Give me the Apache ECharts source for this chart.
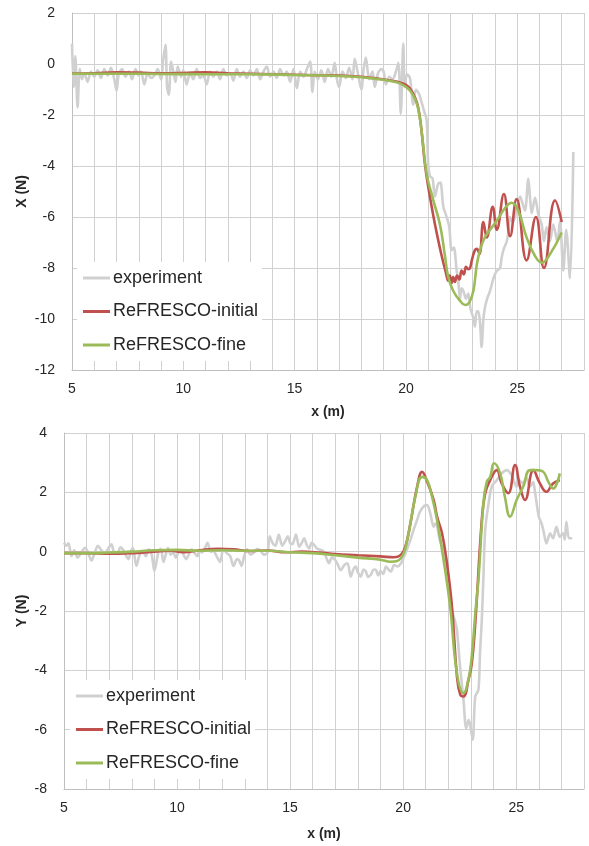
<!DOCTYPE html>
<html>
<head>
<meta charset="utf-8">
<script src="https://cdn.jsdelivr.net/npm/echarts@6/dist/echarts.min.js"></script>
<style>
html,body{margin:0;padding:0;background:#fff;}
#chart{width:589px;height:846px;}
</style>
</head>
<body>
<div id="chart"></div>
<script>
// ---- Data (x in m, force in N) ----
const seriesNames = ['experiment', 'ReFRESCO-initial', 'ReFRESCO-fine'];
const xTickLabels = [5, 10, 15, 20, 25];

// Top panel: X (N)
const expX = [
[5.0,0.8],[5.08,-0.9],[5.15,0.3],[5.25,-1.7],[5.35,-0.2],[5.45,-0.6],[5.55,-0.35],[5.7,-0.7],[5.85,-0.3],[6.0,-0.5],
[6.15,-0.25],[6.3,-0.55],[6.45,-0.2],[6.6,-0.45],[6.75,-0.15],[6.9,-0.6],[7.0,-1.05],[7.1,-0.4],[7.25,-0.2],[7.4,-0.5],
[7.55,-0.3],[7.7,-0.6],[7.85,-0.2],[8.0,-0.45],[8.1,-0.3],[8.25,-0.8],[8.4,-0.35],[8.55,-0.55],[8.7,-0.45],[8.85,-0.2],
[9.0,-0.6],[9.1,0.2],[9.2,0.75],[9.27,-0.9],[9.35,-1.2],[9.45,0.1],[9.55,-0.3],[9.65,-0.7],[9.75,-0.1],[9.9,-0.5],
[10.0,-0.25],[10.15,-0.8],[10.3,-0.35],[10.45,-0.6],[10.6,-0.2],[10.75,-0.55],[10.9,-0.45],[11.05,-0.8],[11.2,-0.3],[11.35,-0.5],
[11.5,-0.3],[11.65,-0.6],[11.8,-0.2],[11.95,-0.45],[12.1,-0.35],[12.25,-0.65],[12.4,-0.2],[12.55,-0.5],[12.7,-0.3],[12.85,-0.55],
[13.0,-0.25],[13.15,-0.45],[13.3,-0.2],[13.45,-0.6],[13.6,-0.3],[13.75,-0.1],[13.9,-0.5],[14.05,-0.3],[14.2,-0.55],[14.35,-0.2],
[14.5,-0.45],[14.65,-0.3],[14.8,-0.7],[14.95,-0.2],[15.1,-0.95],[15.25,-0.3],[15.4,-0.5],[15.55,-0.2],[15.7,0.1],[15.8,-1.1],
[15.9,-0.3],[16.05,-0.6],[16.2,-0.25],[16.35,-0.7],[16.5,-0.2],[16.65,-0.5],[16.8,0.05],[16.9,-0.6],[17.0,-0.9],[17.15,-0.3],
[17.3,-0.55],[17.45,-0.15],[17.6,-0.6],[17.7,0.2],[17.85,-0.4],[18.0,-1.0],[18.1,-0.2],[18.2,0.25],[18.35,-0.6],[18.5,-0.3],
[18.6,-0.9],[18.75,-0.35],[18.9,-0.2],[19.0,-0.3],[19.1,-0.8],[19.25,-0.5],[19.4,-0.6],[19.55,-0.3],[19.66,0.05],[19.77,-1.95],
[19.88,0.8],[19.95,-0.9],[20.05,-0.4],[20.18,-0.55],[20.33,-1.6],[20.45,-1.0],[20.6,-1.2],[20.8,-1.8],[20.93,-2.2],[21.0,-3.9],
[21.08,-4.4],[21.2,-4.5],[21.3,-5.2],[21.45,-4.7],[21.55,-4.65],[21.68,-5.6],[21.83,-6.0],[21.95,-6.4],[22.05,-7.3],[22.15,-7.2],
[22.28,-8.1],[22.35,-8.5],[22.43,-9.2],[22.5,-8.8],[22.58,-8.9],[22.7,-9.2],[22.8,-9.0],[22.9,-9.6],[23.03,-9.95],[23.1,-10.3],
[23.18,-9.7],[23.25,-9.7],[23.33,-10.15],[23.4,-11.1],[23.48,-10.0],[23.55,-9.55],[23.65,-9.2],[23.78,-8.9],[23.9,-8.5],[24.0,-8.25],
[24.1,-8.1],[24.23,-8.0],[24.3,-7.6],[24.38,-7.3],[24.53,-6.95],[24.6,-6.6],[24.68,-6.0],[24.8,-6.2],[24.9,-6.0],[25.0,-5.6],
[25.13,-5.2],[25.25,-5.5],[25.35,-5.75],[25.5,-4.5],[25.58,-5.3],[25.65,-5.85],[25.8,-5.25],[25.95,-5.9],[26.1,-6.3],[26.2,-6.95],
[26.32,-6.4],[26.47,-6.95],[26.62,-6.3],[26.8,-6.95],[26.92,-6.15],[27.07,-8.1],[27.2,-6.5],[27.37,-8.4],[27.52,-3.45]
];
const initX = [
[5,-0.37],[6,-0.36],[7,-0.33],[8,-0.34],[9,-0.36],[10,-0.35],[11,-0.33],[12,-0.36],[13,-0.38],[14,-0.4],
[15,-0.42],[16,-0.44],[17,-0.45],[18,-0.5],[18.8,-0.58],[19.3,-0.65],[19.7,-0.72],[20.0,-0.82],[20.2,-0.98],[20.4,-1.3],
[20.55,-1.7],[20.7,-2.6],[20.85,-3.9],[21.0,-4.8],[21.2,-5.8],[21.4,-6.7],[21.6,-7.5],[21.8,-8.2],[21.9,-8.5],[21.97,-8.3],
[22.05,-8.6],[22.12,-8.35],[22.2,-8.55],[22.3,-8.3],[22.4,-8.45],[22.5,-8.1],[22.6,-8.25],[22.7,-7.95],[22.8,-8.05],[22.88,-8.0],
[22.96,-7.7],[23.1,-7.3],[23.19,-7.25],[23.3,-7.45],[23.48,-6.2],[23.63,-6.8],[23.9,-5.6],[24.08,-6.5],[24.4,-5.1],[24.68,-6.75],
[24.97,-5.3],[25.42,-7.7],[25.84,-6.0],[26.2,-8.0],[26.7,-5.35],[27.0,-6.2]
];
const fineX = [
[5,-0.38],[7,-0.38],[9,-0.39],[11,-0.4],[13,-0.4],[15,-0.43],[17,-0.47],[18,-0.52],[18.8,-0.6],[19.3,-0.67],
[19.7,-0.75],[20.0,-0.9],[20.2,-1.06],[20.4,-1.35],[20.55,-1.75],[20.7,-2.6],[20.93,-4.3],[21.2,-5.25],[21.53,-6.3],[21.75,-7.5],
[21.9,-8.35],[22.13,-8.9],[22.4,-9.25],[22.66,-9.45],[22.85,-9.35],[23.03,-8.9],[23.18,-7.9],[23.33,-7.3],[23.55,-6.8],[24.08,-6.15],
[24.52,-5.57],[24.75,-5.44],[25.05,-5.76],[25.42,-6.8],[25.8,-7.53],[26.1,-7.79],[26.47,-7.46],[27.0,-6.61]
];

// Bottom panel: Y (N)
const expY = [
[5.0,0.3],[5.1,0.2],[5.2,0.28],[5.33,-0.15],[5.45,0.05],[5.6,-0.2],[5.75,-0.05],[5.93,0.13],[6.05,0.0],[6.22,-0.3],
[6.35,-0.05],[6.5,0.2],[6.65,0.05],[6.8,-0.05],[6.95,0.1],[7.1,0.25],[7.2,0.0],[7.35,-0.08],[7.5,0.15],[7.6,0.08],
[7.72,-0.1],[7.85,-0.25],[7.95,0.0],[8.05,0.13],[8.2,-0.48],[8.35,-0.1],[8.5,-0.03],[8.62,-0.15],[8.75,0.08],[8.88,-0.1],
[9.0,-0.65],[9.17,-0.03],[9.28,0.1],[9.4,-0.35],[9.5,-0.1],[9.6,0.12],[9.72,-0.1],[9.83,-0.03],[9.95,-0.2],[10.1,0.02],
[10.25,-0.05],[10.4,-0.25],[10.52,-0.1],[10.65,0.08],[10.78,-0.05],[10.9,-0.15],[11.0,0.05],[11.1,-0.03],[11.22,0.1],[11.35,0.3],
[11.48,0.0],[11.6,0.02],[11.75,-0.15],[11.9,-0.35],[12.05,0.08],[12.2,-0.05],[12.35,-0.15],[12.5,-0.48],[12.65,-0.25],[12.75,-0.3],
[12.85,-0.48],[12.97,-0.15],[13.1,0.08],[13.25,-0.1],[13.4,-0.03],[13.55,0.1],[13.7,0.02],[13.85,-0.1],[14.0,-0.03],[14.1,0.52],
[14.22,0.3],[14.35,0.2],[14.5,0.58],[14.65,0.2],[14.78,0.35],[14.9,0.52],[15.0,0.3],[15.1,0.25],[15.26,0.58],[15.4,0.17],
[15.52,0.3],[15.62,0.45],[15.75,0.2],[15.85,0.11],[15.95,0.3],[16.07,0.22],[16.2,0.1],[16.36,0.06],[16.5,0.0],[16.6,-0.2],
[16.72,-0.39],[16.85,-0.2],[17.0,-0.28],[17.12,-0.45],[17.24,-0.62],[17.4,-0.45],[17.54,-0.39],[17.68,-0.84],[17.8,-0.6],[17.9,-0.5],
[18.0,-0.7],[18.12,-0.84],[18.25,-0.6],[18.35,-0.67],[18.45,-0.85],[18.57,-0.78],[18.7,-0.6],[18.8,-0.62],[18.9,-0.8],[19.0,-0.65],
[19.12,-0.75],[19.24,-0.5],[19.35,-0.6],[19.46,-0.67],[19.6,-0.45],[19.75,-0.5],[19.9,-0.4],[20.04,-0.17],[20.18,0.1],[20.32,0.39],
[20.47,0.75],[20.62,1.07],[20.72,1.3],[20.84,1.46],[20.95,1.55],[21.06,1.57],[21.2,1.29],[21.35,0.84],[21.42,0.95],[21.5,0.88],
[21.6,0.45],[21.72,0.17],[21.82,-0.1],[21.94,-0.5],[22.05,-1.2],[22.16,-1.96],[22.28,-2.3],[22.38,-2.64],[22.52,-3.9],[22.67,-5.0],
[22.79,-5.95],[22.9,-5.67],[23.0,-6.0],[23.08,-6.34],[23.19,-4.88],[23.33,-4.66],[23.4,-3.42],[23.48,-2.3],[23.55,-0.9],[23.63,0.73],
[23.78,1.63],[23.92,2.19],[24.14,2.41],[24.36,2.64],[24.58,2.75],[24.8,2.58],[25.02,2.19],[25.15,2.4],[25.31,2.3],[25.45,2.5],
[25.61,2.19],[25.75,2.35],[25.83,2.02],[26.0,1.18],[26.1,1.0],[26.2,0.73],[26.34,0.28],[26.5,0.62],[26.63,0.45],[26.78,0.84],
[26.93,0.5],[27.07,0.62],[27.15,0.4],[27.22,1.01],[27.34,0.45],[27.48,0.45]
];
const initY = [
[5,-0.05],[6,-0.05],[7,-0.07],[8,-0.05],[9,0.0],[9.7,0.03],[10.3,-0.02],[11,0.05],[11.8,0.1],[12.5,0.08],
[13.2,0.02],[14,0.04],[14.8,-0.02],[15.5,0.0],[16.3,-0.03],[17,-0.08],[18,-0.12],[19,-0.16],[19.6,-0.19],[19.9,-0.11],
[20.1,0.17],[20.32,0.95],[20.62,2.19],[20.84,2.69],[21.06,2.36],[21.35,1.74],[21.5,1.18],[21.72,0.62],[21.94,-0.39],[22.16,-1.85],
[22.38,-4.2],[22.53,-4.83],[22.67,-4.88],[22.89,-4.32],[23.04,-3.76],[23.2,-2.3],[23.48,1.07],[23.63,1.97],[23.85,2.41],[24.14,2.75],
[24.36,2.3],[24.65,1.97],[24.95,2.92],[25.17,2.19],[25.39,1.74],[25.76,2.75],[26.05,2.3],[26.34,2.02],[26.63,2.3],[26.93,2.41]
];
const fineY = [
[5,-0.05],[6,-0.05],[7,-0.03],[8,0.0],[9,0.05],[10,0.06],[11,0.03],[12,0.05],[13,0.03],[14,0.03],
[15,-0.02],[16,-0.05],[17,-0.12],[18,-0.2],[19,-0.27],[19.44,-0.34],[19.9,-0.22],[20.18,0.39],[20.54,1.85],[20.84,2.52],
[21.06,2.41],[21.28,1.85],[21.5,1.07],[21.79,-0.28],[22.08,-1.85],[22.38,-4.1],[22.67,-4.77],[22.89,-4.3],[23.04,-3.5],[23.2,-2.0],
[23.33,-0.95],[23.55,1.63],[23.7,2.36],[23.85,2.52],[24.02,2.98],[24.29,2.64],[24.5,1.85],[24.73,1.18],[25.02,1.74],[25.31,2.19],
[25.61,2.75],[25.9,2.75],[26.2,2.69],[26.42,2.36],[26.63,2.13],[26.93,2.64]
];

// ---- Chart ----
const FONT = 'Liberation Sans';
const colors = ['#d0d0d0', '#c0504d', '#9bbb59'];
const gridColor = '#d0d0d0';

function xAxisCfg(gridIndex, nameGap) {
  return {
    type: 'value', gridIndex: gridIndex, min: 5, max: 28, interval: 1,
    name: 'x (m)', nameLocation: 'middle', nameGap: nameGap, nameMoveOverlap: false,
    nameTextStyle: { fontFamily: FONT, fontSize: 14, fontWeight: 'bold', color: '#262626' },
    axisLine: { show: true, onZero: false, lineStyle: { color: '#bfbfbf', width: 1 } },
    axisTick: { show: false },
    axisLabel: {
      fontFamily: FONT, fontSize: 14, color: '#262626', margin: 12,
      formatter: function (v) { return xTickLabels.indexOf(v) >= 0 ? String(v) : ''; }
    },
    splitLine: { show: true, lineStyle: { color: gridColor, width: 1 } }
  };
}
function yAxisCfg(gridIndex, name, min, max, nameGap) {
  return {
    type: 'value', gridIndex: gridIndex, min: min, max: max, interval: 2,
    name: name, nameLocation: 'middle', nameGap: nameGap, nameRotate: 90, nameMoveOverlap: false,
    nameTextStyle: { fontFamily: FONT, fontSize: 14, fontWeight: 'bold', color: '#262626' },
    axisLine: { show: true, onZero: false, lineStyle: { color: '#bfbfbf', width: 1 } },
    axisTick: { show: false },
    axisLabel: { fontFamily: FONT, fontSize: 14, color: '#262626', margin: 17 },
    splitLine: { show: true, lineStyle: { color: gridColor, width: 1 } }
  };
}
function lineSeries(name, data, idx, color, smooth) {
  return {
    name: name, type: 'line', xAxisIndex: idx, yAxisIndex: idx, data: data,
    showSymbol: false, symbol: 'none', smooth: smooth,
    lineStyle: { color: color, width: 2.6 }, itemStyle: { color: color },
    emphasis: { disabled: true }, animation: false
  };
}
function legendCfg(left, top) {
  return {
    data: seriesNames, orient: 'vertical', left: left, top: top,
    backgroundColor: '#ffffff', padding: [7, 4, 7, 6],
    icon: 'rect', itemWidth: 27, itemHeight: 3, itemGap: 15.5,
    textStyle: { fontFamily: FONT, fontSize: 18, color: '#262626', padding: [0, 0, 0, -2] },
    selectedMode: false
  };
}

const chart = echarts.init(document.getElementById('chart'), null, { renderer: 'canvas' });
chart.setOption({
  animation: false,
  backgroundColor: '#ffffff',
  color: colors,
  grid: [
    { left: 72, top: 13, right: 5, height: 357, containLabel: false },
    { left: 64, top: 433, right: 5, height: 356, containLabel: false }
  ],
  xAxis: [xAxisCfg(0, 35), xAxisCfg(1, 38)],
  yAxis: [yAxisCfg(0, 'X (N)', -12, 2, 43), yAxisCfg(1, 'Y (N)', -8, 4, 35)],
  legend: [legendCfg(77, 262), legendCfg(70, 680)],
  series: [
    lineSeries(seriesNames[0], expX, 0, colors[0], 0.3),
    lineSeries(seriesNames[1], initX, 0, colors[1], 0.45),
    lineSeries(seriesNames[2], fineX, 0, colors[2], 0.45),
    lineSeries(seriesNames[0], expY, 1, colors[0], 0.3),
    lineSeries(seriesNames[1], initY, 1, colors[1], 0.45),
    lineSeries(seriesNames[2], fineY, 1, colors[2], 0.45)
  ]
});
</script>
</body>
</html>
